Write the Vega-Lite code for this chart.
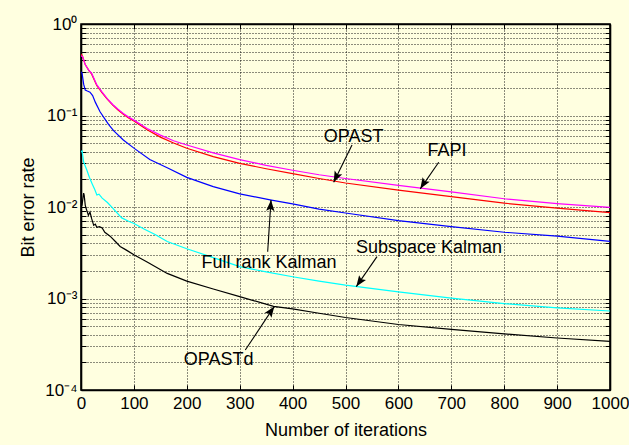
{
  "$schema": "https://vega.github.io/schema/vega-lite/v6.json",
  "width": 529,
  "height": 366,
  "autosize": "none",
  "padding": {"left": 81, "top": 24, "right": 19, "bottom": 55},
  "background": "#FFFFE0",
  "config": {
    "view": {"stroke": "#000000", "strokeWidth": 1.6},
    "font": "Liberation Sans",
    "axis": {
      "domainColor": "#000000",
      "domainWidth": 1.6,
      "tickColor": "#000000",
      "labelColor": "#000000",
      "titleColor": "#000000",
      "labelFont": "Liberation Sans",
      "titleFont": "Liberation Sans",
      "labelFontSize": 17,
      "titleFontSize": 18,
      "titleFontWeight": "normal",
      "gridColor": "#000000",
      "gridDash": [1, 2],
      "gridWidth": 1,
      "gridOpacity": 0.9,
      "tickSize": -5,
      "labelOverlap": false
    }
  },
  "datasets": {
    "curves": [
      {"s":"OPASTd","x":0,"y":0.0100},{"s":"OPASTd","x":2,"y":0.0105},{"s":"OPASTd","x":4,"y":0.013},{"s":"OPASTd","x":5,"y":0.0142},{"s":"OPASTd","x":6,"y":0.0135},{"s":"OPASTd","x":8,"y":0.0105},{"s":"OPASTd","x":10,"y":0.0095},{"s":"OPASTd","x":12,"y":0.0088},{"s":"OPASTd","x":14,"y":0.0081},{"s":"OPASTd","x":17,"y":0.0088},{"s":"OPASTd","x":20,"y":0.0075},{"s":"OPASTd","x":24,"y":0.0063},{"s":"OPASTd","x":27,"y":0.0065},{"s":"OPASTd","x":30,"y":0.0060},{"s":"OPASTd","x":35,"y":0.0061},{"s":"OPASTd","x":40,"y":0.0059},{"s":"OPASTd","x":45,"y":0.0053},{"s":"OPASTd","x":55,"y":0.0048},{"s":"OPASTd","x":65,"y":0.0042},{"s":"OPASTd","x":74,"y":0.0037},{"s":"OPASTd","x":85,"y":0.0034},{"s":"OPASTd","x":100,"y":0.0030},{"s":"OPASTd","x":125,"y":0.0025},{"s":"OPASTd","x":163,"y":0.00188},{"s":"OPASTd","x":200,"y":0.00155},{"s":"OPASTd","x":250,"y":0.00127},{"s":"OPASTd","x":300,"y":0.00105},{"s":"OPASTd","x":364,"y":0.00082},{"s":"OPASTd","x":400,"y":0.00077},{"s":"OPASTd","x":450,"y":0.00069},{"s":"OPASTd","x":500,"y":0.00062},{"s":"OPASTd","x":600,"y":0.00052},{"s":"OPASTd","x":700,"y":0.00046},{"s":"OPASTd","x":800,"y":0.00041},{"s":"OPASTd","x":900,"y":0.00037},{"s":"OPASTd","x":1000,"y":0.00034},
      {"s":"Subspace Kalman","x":0,"y":0.040},{"s":"Subspace Kalman","x":2,"y":0.041},{"s":"Subspace Kalman","x":5,"y":0.031},{"s":"Subspace Kalman","x":11,"y":0.0254},{"s":"Subspace Kalman","x":16,"y":0.021},{"s":"Subspace Kalman","x":21,"y":0.018},{"s":"Subspace Kalman","x":26,"y":0.0155},{"s":"Subspace Kalman","x":30,"y":0.0135},{"s":"Subspace Kalman","x":34,"y":0.0138},{"s":"Subspace Kalman","x":40,"y":0.0125},{"s":"Subspace Kalman","x":50,"y":0.0112},{"s":"Subspace Kalman","x":60,"y":0.0097},{"s":"Subspace Kalman","x":77,"y":0.0076},{"s":"Subspace Kalman","x":90,"y":0.0070},{"s":"Subspace Kalman","x":100,"y":0.0066},{"s":"Subspace Kalman","x":120,"y":0.0057},{"s":"Subspace Kalman","x":140,"y":0.0050},{"s":"Subspace Kalman","x":163,"y":0.0042},{"s":"Subspace Kalman","x":200,"y":0.0035},{"s":"Subspace Kalman","x":250,"y":0.0028},{"s":"Subspace Kalman","x":300,"y":0.00223},{"s":"Subspace Kalman","x":350,"y":0.00195},{"s":"Subspace Kalman","x":400,"y":0.00173},{"s":"Subspace Kalman","x":450,"y":0.00155},{"s":"Subspace Kalman","x":500,"y":0.00140},{"s":"Subspace Kalman","x":600,"y":0.00118},{"s":"Subspace Kalman","x":700,"y":0.00101},{"s":"Subspace Kalman","x":800,"y":0.00088},{"s":"Subspace Kalman","x":900,"y":0.00079},{"s":"Subspace Kalman","x":1000,"y":0.00073},
      {"s":"Full rank Kalman","x":0,"y":0.30},{"s":"Full rank Kalman","x":2,"y":0.29},{"s":"Full rank Kalman","x":5,"y":0.22},{"s":"Full rank Kalman","x":8,"y":0.19},{"s":"Full rank Kalman","x":12,"y":0.185},{"s":"Full rank Kalman","x":17,"y":0.18},{"s":"Full rank Kalman","x":22,"y":0.165},{"s":"Full rank Kalman","x":27,"y":0.14},{"s":"Full rank Kalman","x":36,"y":0.11},{"s":"Full rank Kalman","x":45,"y":0.092},{"s":"Full rank Kalman","x":52,"y":0.080},{"s":"Full rank Kalman","x":62,"y":0.068},{"s":"Full rank Kalman","x":80,"y":0.054},{"s":"Full rank Kalman","x":100,"y":0.044},{"s":"Full rank Kalman","x":130,"y":0.033},{"s":"Full rank Kalman","x":163,"y":0.0269},{"s":"Full rank Kalman","x":200,"y":0.0211},{"s":"Full rank Kalman","x":250,"y":0.0167},{"s":"Full rank Kalman","x":300,"y":0.0139},{"s":"Full rank Kalman","x":360,"y":0.0119},{"s":"Full rank Kalman","x":400,"y":0.0108},{"s":"Full rank Kalman","x":450,"y":0.0095},{"s":"Full rank Kalman","x":500,"y":0.0086},{"s":"Full rank Kalman","x":600,"y":0.0071},{"s":"Full rank Kalman","x":700,"y":0.0061},{"s":"Full rank Kalman","x":800,"y":0.0053},{"s":"Full rank Kalman","x":900,"y":0.0048},{"s":"Full rank Kalman","x":1000,"y":0.0042},
      {"s":"OPAST","x":0,"y":0.47},{"s":"OPAST","x":3,"y":0.44},{"s":"OPAST","x":8,"y":0.36},{"s":"OPAST","x":15,"y":0.31},{"s":"OPAST","x":20,"y":0.285},{"s":"OPAST","x":30,"y":0.212},{"s":"OPAST","x":40,"y":0.177},{"s":"OPAST","x":50,"y":0.15},{"s":"OPAST","x":60,"y":0.13},{"s":"OPAST","x":70,"y":0.115},{"s":"OPAST","x":80,"y":0.103},{"s":"OPAST","x":90,"y":0.094},{"s":"OPAST","x":100,"y":0.087},{"s":"OPAST","x":125,"y":0.070},{"s":"OPAST","x":150,"y":0.058},{"s":"OPAST","x":175,"y":0.050},{"s":"OPAST","x":200,"y":0.0438},{"s":"OPAST","x":250,"y":0.0355},{"s":"OPAST","x":300,"y":0.0300},{"s":"OPAST","x":350,"y":0.0262},{"s":"OPAST","x":400,"y":0.0232},{"s":"OPAST","x":450,"y":0.0205},{"s":"OPAST","x":500,"y":0.0183},{"s":"OPAST","x":600,"y":0.0153},{"s":"OPAST","x":700,"y":0.0130},{"s":"OPAST","x":800,"y":0.0110},{"s":"OPAST","x":900,"y":0.0097},{"s":"OPAST","x":1000,"y":0.0087},
      {"s":"FAPI","x":0,"y":0.45},{"s":"FAPI","x":3,"y":0.44},{"s":"FAPI","x":8,"y":0.36},{"s":"FAPI","x":15,"y":0.31},{"s":"FAPI","x":20,"y":0.29},{"s":"FAPI","x":30,"y":0.216},{"s":"FAPI","x":40,"y":0.18},{"s":"FAPI","x":50,"y":0.152},{"s":"FAPI","x":60,"y":0.132},{"s":"FAPI","x":70,"y":0.117},{"s":"FAPI","x":80,"y":0.105},{"s":"FAPI","x":90,"y":0.096},{"s":"FAPI","x":100,"y":0.089},{"s":"FAPI","x":125,"y":0.072},{"s":"FAPI","x":150,"y":0.061},{"s":"FAPI","x":175,"y":0.053},{"s":"FAPI","x":200,"y":0.0476},{"s":"FAPI","x":250,"y":0.039},{"s":"FAPI","x":300,"y":0.033},{"s":"FAPI","x":350,"y":0.0285},{"s":"FAPI","x":400,"y":0.0252},{"s":"FAPI","x":450,"y":0.0225},{"s":"FAPI","x":500,"y":0.0205},{"s":"FAPI","x":600,"y":0.0172},{"s":"FAPI","x":700,"y":0.0146},{"s":"FAPI","x":800,"y":0.0123},{"s":"FAPI","x":900,"y":0.0109},{"s":"FAPI","x":1000,"y":0.0099}
    ],
    "notes": [
      {"label":"OPAST","tx":515.5,"ty":0.0587,"ax":512.3,"ay":0.0476,"hx":477.7,"hy":0.0186},
      {"label":"FAPI","tx":691.9,"ty":0.04124,"ax":676.2,"ay":0.0308,"hx":641.4,"hy":0.0158},
      {"label":"Full rank Kalman","tx":355.4,"ty":0.002443,"ax":352.9,"ay":0.003247,"hx":359.2,"hy":0.0119},
      {"label":"Subspace Kalman","tx":657.8,"ty":0.003537,"ax":559.5,"ay":0.002864,"hx":520.4,"hy":0.00135},
      {"label":"OPASTd","tx":260.3,"ty":0.0002128,"ax":310.6,"ay":0.0002735,"hx":365.4,"hy":0.00082}
    ]
  },
  "resolve": {"axis": {"x": "independent", "y": "independent"}},
  "layer": [
    {
      "data": {"name": "curves"},
      "mark": {"type": "line", "strokeWidth": 1.2, "clip": true},
      "encoding": {
        "x": {"field": "x", "type": "quantitative",
          "scale": {"domain": [0, 1000], "nice": false, "zero": false},
          "axis": {"orient": "bottom", "values": [0,100,200,300,400,500,600,700,800,900,1000], "grid": true, "format": "d",
            "title": "Number of iterations", "titlePadding": 10, "labelPadding": 10, "labelFlush": false}},
        "y": {"field": "y", "type": "quantitative",
          "scale": {"type": "log", "domain": [0.0001, 1], "nice": false},
          "axis": {"orient": "left", "grid": true, "title": "Bit error rate", "titlePadding": 7, "labelPadding": 9,
            "values": [0.0001,0.0002,0.0003,0.0004,0.0005,0.0006,0.0007,0.0008,0.0009,0.001,0.002,0.003,0.004,0.005,0.006,0.007,0.008,0.009,0.01,0.02,0.03,0.04,0.05,0.06,0.07,0.08,0.09,0.1,0.2,0.3,0.4,0.5,0.6,0.7,0.8,0.9,1],
            "labelExpr": "datum.value == 1 ? '10⁰' : datum.value == 0.1 ? '10⁻¹' : datum.value == 0.01 ? '10⁻²' : datum.value == 0.001 ? '10⁻³' : datum.value == 0.0001 ? '10⁻⁴' : ''"}},
        "color": {"field": "s", "type": "nominal",
          "scale": {"domain": ["OPASTd","Subspace Kalman","Full rank Kalman","OPAST","FAPI"],
                    "range": ["#000000","#00FFFF","#0000FF","#FF0000","#FF00FF"]},
          "legend": null}
      }
    },
    {
      "data": {"name": "curves"},
      "mark": {"type": "line", "strokeOpacity": 0},
      "encoding": {
        "x": {"field": "x", "type": "quantitative",
          "scale": {"domain": [0, 1000], "nice": false, "zero": false},
          "axis": {"orient": "top", "values": [0,100,200,300,400,500,600,700,800,900,1000], "grid": false, "labels": false, "title": null}},
        "y": {"field": "y", "type": "quantitative",
          "scale": {"type": "log", "domain": [0.0001, 1], "nice": false},
          "axis": {"orient": "right", "grid": false, "labels": false, "title": null,
            "values": [0.0001,0.0002,0.0003,0.0004,0.0005,0.0006,0.0007,0.0008,0.0009,0.001,0.002,0.003,0.004,0.005,0.006,0.007,0.008,0.009,0.01,0.02,0.03,0.04,0.05,0.06,0.07,0.08,0.09,0.1,0.2,0.3,0.4,0.5,0.6,0.7,0.8,0.9,1]}},
        "detail": {"field": "s"}
      }
    },
    {
      "data": {"name": "notes"},
      "mark": {"type": "rule", "color": "#000000", "strokeWidth": 1.1},
      "encoding": {
        "x": {"field": "ax", "type": "quantitative", "axis": null},
        "y": {"field": "ay", "type": "quantitative", "axis": null},
        "x2": {"field": "hx"},
        "y2": {"field": "hy"}
      }
    },
    {
      "data": {"name": "notes"},
      "mark": {"type": "point", "filled": true, "color": "#000000", "opacity": 1, "size": 484,
               "shape": "M0,0L-0.38,1L0,0.8L0.38,1Z", "strokeWidth": 0},
      "encoding": {
        "x": {"field": "hx", "type": "quantitative", "axis": null},
        "y": {"field": "hy", "type": "quantitative", "axis": null},
        "angle": {"condition": [
          {"test": "datum.label == 'OPAST'", "value": 205.5},
          {"test": "datum.label == 'FAPI'", "value": 212},
          {"test": "datum.label == 'Full rank Kalman'", "value": 3.8},
          {"test": "datum.label == 'Subspace Kalman'", "value": 214.6}
        ], "value": 34.8}
      }
    },
    {
      "data": {"name": "notes"},
      "mark": {"type": "text", "font": "Liberation Sans", "fontSize": 18, "color": "#000000", "align": "center", "baseline": "middle"},
      "encoding": {
        "x": {"field": "tx", "type": "quantitative", "axis": null},
        "y": {"field": "ty", "type": "quantitative", "axis": null},
        "text": {"field": "label"}
      }
    }
  ]
}
